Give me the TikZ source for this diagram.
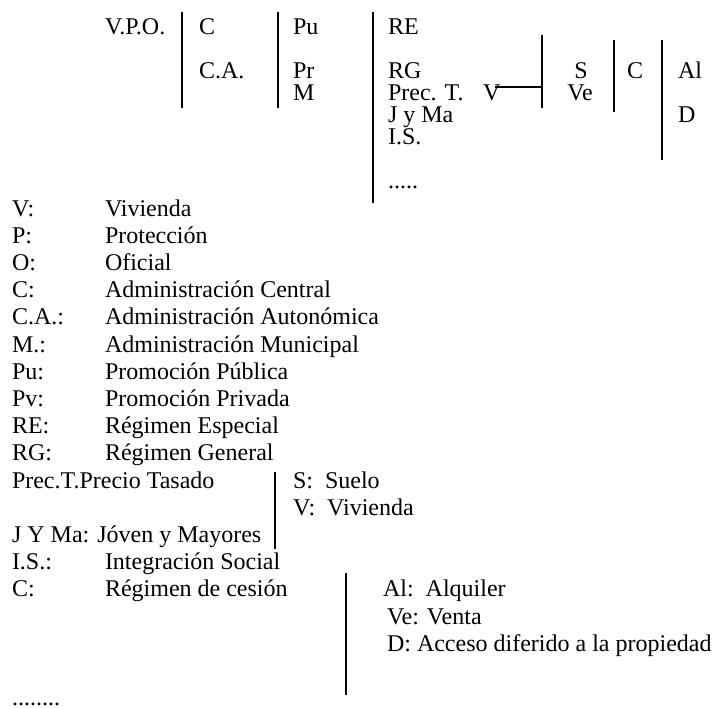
\documentclass[tikz,border=0pt]{standalone}
\usepackage{fontspec}
\setmainfont{Liberation Serif}
\begin{document}
\begin{tikzpicture}[x=0.5pt,y=-0.5pt,
  txt/.style={inner sep=0pt,outer sep=0pt,anchor=base west,font=\fontsize{12pt}{14pt}\selectfont},
  txtc/.style={txt,anchor=base},
  bar/.style={line width=1pt}]
\useasboundingbox (0,0) rectangle (715,708);
% ---------- top scheme ----------
\node[txt] (vpo) at (105,34) {V.P.O.};
\node[txt] (c1) at (199,34) {C};
\node[txt] (ca1) at (199,78) {C.A.};
\node[txt] (pu1) at (293,34) {Pu};
\node[txt] (pr1) at (293,78) {Pr};
\node[txt] (m1) at (293,100) {M};
\node[txt] (re1) at (388,34) {RE};
\node[txt] (rg1) at (388,78) {RG};
\node[txt] (prec1) at (388,100) {Prec. T.};
\node[txt] (jy1) at (388,122) {J y Ma};
\node[txt] (is1) at (388,144) {I.S.};
\node[txt] (dots1) at (388,188) {.....};
\node[txt] (v1) at (483,100) {V};
\node[txtc] (s1) at (581,78) {S};
\node[txtc] (ve1) at (580,100) {Ve};
\node[txt] (c2) at (627,78) {C};
\node[txt] (al1) at (678,78) {Al};
\node[txt] (d1) at (678,122) {D};
\coordinate (l1t) at (182,12);  \coordinate (l1b) at (182,108);
\coordinate (l2t) at (278,12);  \coordinate (l2b) at (278,108);
\coordinate (l3t) at (373,12);  \coordinate (l3b) at (373,203);
\coordinate (l4t) at (542,35);  \coordinate (l4b) at (542,108);
\coordinate (l5t) at (614,40);  \coordinate (l5b) at (614,112);
\coordinate (l6t) at (662,40);  \coordinate (l6b) at (662,160);
\draw[bar] (l1t) -- (l1b);
\draw[bar] (l2t) -- (l2b);
\draw[bar] (l3t) -- (l3b);
\draw[bar] (l4t) -- (l4b);
\draw[bar] (l5t) -- (l5b);
\draw[bar] (l6t) -- (l6b);
\coordinate (hv) at ([xshift=-2.5pt,yshift=-1.5pt]v1.north east);
\draw[bar] (hv) -- (l4t |- hv);
% ---------- legend ----------
\node[txt] (k0) at (12,216) {V:};      \node[txt] (t0) at (105,216) {Vivienda};
\node[txt] (k1) at (12,243.2) {P:};    \node[txt] (t1) at (105,243.2) {Protección};
\node[txt] (k2) at (12,270.4) {O:};    \node[txt] (t2) at (105,270.4) {Oficial};
\node[txt] (k3) at (12,297.6) {C:};    \node[txt] (t3) at (105,297.6) {Administración Central};
\node[txt] (k4) at (12,324.8) {C.A.:}; \node[txt] (t4) at (105,324.8) {Administración Autonómica};
\node[txt] (k5) at (12,352) {M.:};     \node[txt] (t5) at (105,352) {Administración Municipal};
\node[txt] (k6) at (12,379.2) {Pu:};   \node[txt] (t6) at (105,379.2) {Promoción Pública};
\node[txt] (k7) at (12,406.4) {Pv:};   \node[txt] (t7) at (105,406.4) {Promoción Privada};
\node[txt] (k8) at (12,433.6) {RE:};   \node[txt] (t8) at (105,433.6) {Régimen Especial};
\node[txt] (k9) at (12,460.8) {RG:};   \node[txt] (t9) at (105,460.8) {Régimen General};
\node[txt] (k10) at (12,488) {Prec.T.Precio Tasado};
\node[txt] (s2) at (293,488) {S:\ \ Suelo};
\node[txt] (v2) at (293,515.2) {V:\ \ Vivienda};
\node[txt] (k12) at (12,542.4) {J Y Ma: Jóven y Mayores};
\node[txt] (k13) at (12,569.6) {I.S.:};  \node[txt] (t13) at (105,569.6) {Integración Social};
\node[txt] (k14) at (12,596.8) {C:};     \node[txt] (t14) at (105,596.8) {Régimen de cesión};
\node[txt] (al2) at (383,596.8) {Al:\ \ Alquiler};
\node[txt] (ve2) at (387,624) {Ve: Venta};
\node[txt] (d2) at (387,651.2) {D: Acceso diferido a la propiedad};
\node[txt] (dots2) at (12,705.6) {........};
\coordinate (m1t) at (275,472); \coordinate (m1b) at (275,549);
\coordinate (m2t) at (346,573); \coordinate (m2b) at (346,695);
\draw[bar] (m1t) -- (m1b);
\draw[bar] (m2t) -- (m2b);
\end{tikzpicture}
\end{document}
